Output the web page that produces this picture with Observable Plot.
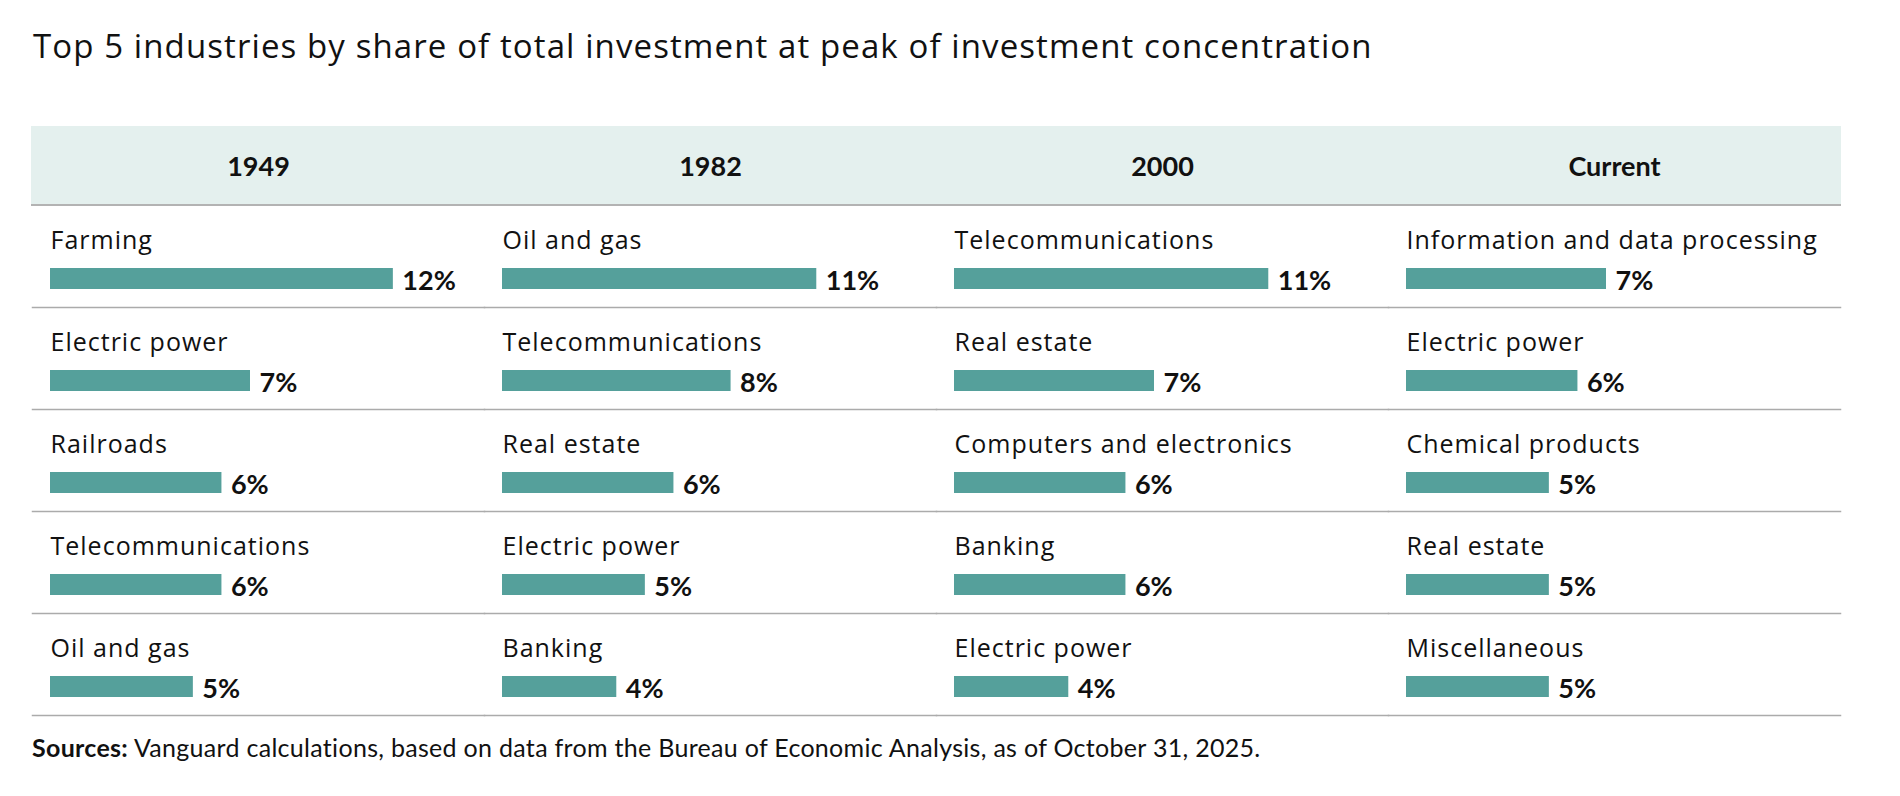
<!DOCTYPE html>
<html>
<head>
<meta charset="utf-8">
<script src="https://cdn.jsdelivr.net/npm/d3@7"></script>
<script src="https://cdn.jsdelivr.net/npm/@observablehq/plot@0.6"></script>
<style>
  html, body { margin: 0; padding: 0; background: #fff; }
  #wrap { position: relative; width: 1900px; height: 796px; overflow: hidden; font-family: Lato, sans-serif; color: #111; }
  #title { position: absolute; left: 33px; top: 29px; font-family: "Open Sans", sans-serif; font-size: 33px; letter-spacing: 1.1px; line-height: 1; white-space: nowrap; }
  #band { position: absolute; left: 31px; top: 126px; width: 1810px; height: 78px; background: #e4f0ee; border-bottom: 2px solid #b3b3b3; }
  #chart { position: absolute; left: 0; top: 126px; }
  #caption { position: absolute; left: 32px; top: 735px; font-size: 25px; letter-spacing: 0.3px; line-height: 1; white-space: nowrap; }
</style>
</head>
<body>
<div id="wrap">
  <div id="title">Top 5 industries by share of total investment at peak of investment concentration</div>
  <div id="band"></div>
  <div id="chart"></div>
  <div id="caption"><b>Sources:</b> Vanguard calculations, based on data from the Bureau of Economic Analysis, as of October 31, 2025.</div>
</div>
<script>
const periods = ["1949", "1982", "2000", "Current"];
const ranks = [1, 2, 3, 4, 5];

const industries1949 = ["Farming", "Electric power", "Railroads", "Telecommunications", "Oil and gas"];
const values1949 = [12, 7, 6, 6, 5];

const industries1982 = ["Oil and gas", "Telecommunications", "Real estate", "Electric power", "Banking"];
const values1982 = [11, 8, 6, 5, 4];

const industries2000 = ["Telecommunications", "Real estate", "Computers and electronics", "Banking", "Electric power"];
const values2000 = [11, 7, 6, 6, 4];

const industriesCurrent = ["Information and data processing", "Electric power", "Chemical products", "Real estate", "Miscellaneous"];
const valuesCurrent = [7, 6, 5, 5, 5];

const industryLists = [industries1949, industries1982, industries2000, industriesCurrent];
const valueLists = [values1949, values1982, values2000, valuesCurrent];

const data = [];
periods.forEach((p, i) => {
  industryLists[i].forEach((name, j) => {
    data.push({period: p, rank: ranks[j], industry: name, value: valueLists[i][j]});
  });
});

const chart = Plot.plot({
  width: 1900,
  height: 591,
  marginTop: 79,
  marginBottom: 2,
  marginLeft: 31,
  marginRight: 59,
  style: {background: "transparent", fontFamily: "Lato, sans-serif", fontSize: "25px", color: "#111", overflow: "visible"},
  fx: {domain: periods, padding: 0, axis: null},
  fy: {domain: ranks, padding: 0, axis: null},
  x: {domain: [-0.63, 15.19], axis: null},
  marks: [
    Plot.axisFx({anchor: "top", tickSize: 0, tickPadding: 38, lineAnchor: "middle", fontSize: 27, fontWeight: "bold", label: null}),
    Plot.frame({anchor: "bottom", stroke: "#ababab", strokeWidth: 1.5}),
    Plot.barX(data, {fx: "period", fy: "rank", x: "value", fill: "#55a09b", insetTop: 63, insetBottom: 18}),
    Plot.text(data, {fx: "period", fy: "rank", x: d => 0, text: "industry", frameAnchor: "top", dy: 43, textAnchor: "start", lineAnchor: "bottom", fontSize: 25, fontFamily: "Open Sans, sans-serif", fill: "#111"}),
    Plot.text(data, {fx: "period", fy: "rank", x: "value", text: d => d.value + "%", frameAnchor: "top", dx: 9, dy: 84, textAnchor: "start", lineAnchor: "bottom", fontSize: 27, fontWeight: "bold", fill: "#111"})
  ]
});
document.getElementById("chart").appendChild(chart);
// widen the industry labels slightly to match the reference typeface
d3.select(chart).selectAll('g[font-family^="Open Sans"]').style("letter-spacing", "1px");
</script>
</body>
</html>
